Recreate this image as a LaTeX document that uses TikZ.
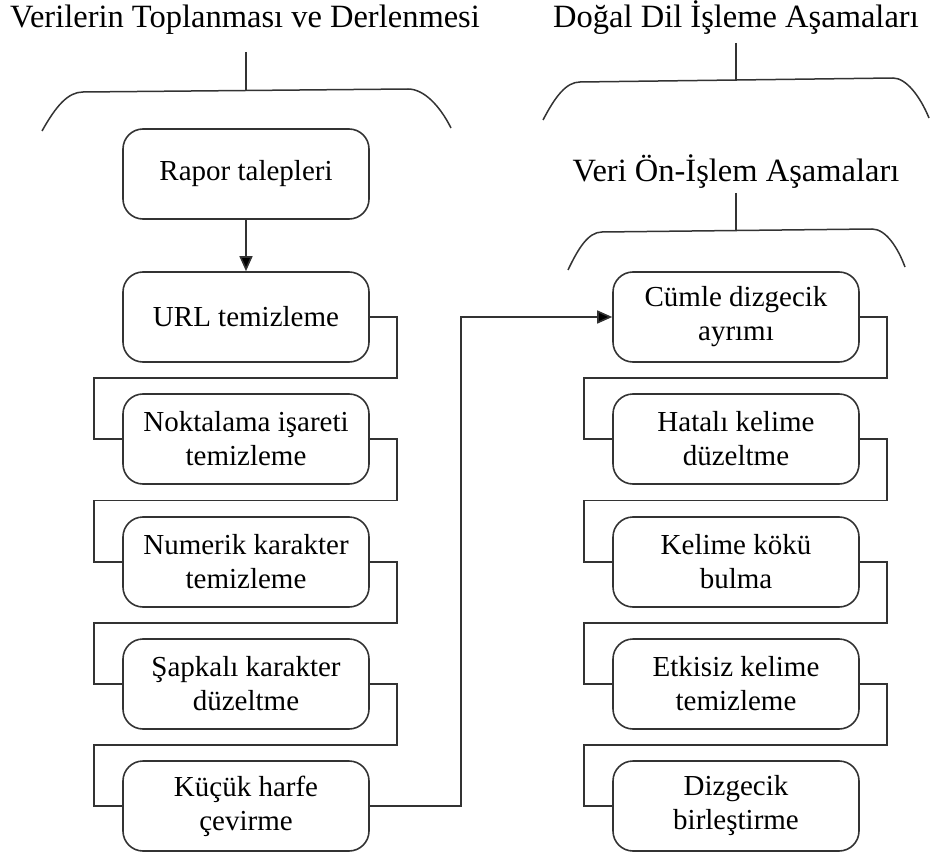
\documentclass[tikz,border=0pt]{standalone}
\usepackage{fontspec}
\setmainfont{Liberation Serif}
\usetikzlibrary{calc,arrows.meta}
\definecolor{linegray}{HTML}{333333}
\begin{document}
\begin{tikzpicture}[x=1pt,y=-1pt,
  stepbox/.style={draw=linegray, line width=1.6pt, rounded corners=20pt,
    minimum width=246pt, minimum height=90pt, align=center,
    font=\fontsize{29}{34}\selectfont, inner sep=0pt},
  heading/.style={font=\fontsize{32.5}{38}\selectfont, inner sep=0pt, anchor=base},
  wire/.style={draw=linegray, line width=1.6pt},
  arr/.style={wire, -{Triangle[length=15pt,width=13pt,fill=black]}},
  bracket/.style={draw=linegray, line width=1.5pt}]
\useasboundingbox (0,0) rectangle (930,856);

% headings
\node[heading] (h1) at (245,28) {Verilerin Toplanması ve Derlenmesi};
\node[heading] (h2) at (736,28) {Doğal Dil İşleme Aşamaları};
\node[heading] (h3) at (736,182) {Veri Ön-İşlem Aşamaları};

% brackets under the headings
\draw[bracket] (246,52) -- (246,91);
\draw[bracket] (42,131) .. controls (56,106) and (68,92) .. (83,92) -- (408,89)
  .. controls (424,89) and (440,106) .. (451,128);
\draw[bracket] (736,43) -- (736,81);
\draw[bracket] (543,120) .. controls (555,97) and (566,82) .. (580,82) -- (893,78)
  .. controls (906,78) and (920,96) .. (929,118);
\draw[bracket] (736,193) -- (736,231);
\draw[bracket] (568,270) .. controls (578,249) and (588,232) .. (602,232) -- (872,229)
  .. controls (886,229) and (898,248) .. (905,267);

% left column
\node[stepbox] (top) at (246,174) {Rapor talepleri};
\node[stepbox] (u1) at (246,317) {URL temizleme};
\node[stepbox] (u2) at (246,439) {Noktalama işareti\\temizleme};
\node[stepbox] (u3) at (246,562) {Numerik karakter\\temizleme};
\node[stepbox] (u4) at (246,684) {Şapkalı karakter\\düzeltme};
\node[stepbox] (u5) at (246,806) {Küçük harfe\\çevirme};

% right column
\node[stepbox] (r1) at (736,317) {Cümle dizgecik\\ayrımı};
\node[stepbox] (r2) at (736,439) {Hatalı kelime\\düzeltme};
\node[stepbox] (r3) at (736,562) {Kelime kökü\\bulma};
\node[stepbox] (r4) at (736,684) {Etkisiz kelime\\temizleme};
\node[stepbox] (r5) at (736,806) {Dizgecik\\birleştirme};

% routing rails
\coordinate (lr) at (397,0);
\coordinate (ll) at (94,0);
\coordinate (rr) at (887,0);
\coordinate (rl) at (584,0);
\coordinate (mx) at (461,0);

\draw[arr] (top.south) -- (u1.north);

\foreach \a/\b in {u1/u2,u2/u3,u3/u4,u4/u5}{
  \coordinate (m) at ($(\a.south)!.5!(\b.north)$);
  \draw[wire] (\a.east) -| (lr |- m) -| (ll |- \b.west) -- (\b.west);
}
\foreach \a/\b in {r1/r2,r2/r3,r3/r4,r4/r5}{
  \coordinate (m) at ($(\a.south)!.5!(\b.north)$);
  \draw[wire] (\a.east) -| (rr |- m) -| (rl |- \b.west) -- (\b.west);
}

\draw[arr] (u5.east) -| (mx |- r1.west) -- (r1.west);
\end{tikzpicture}
\end{document}
